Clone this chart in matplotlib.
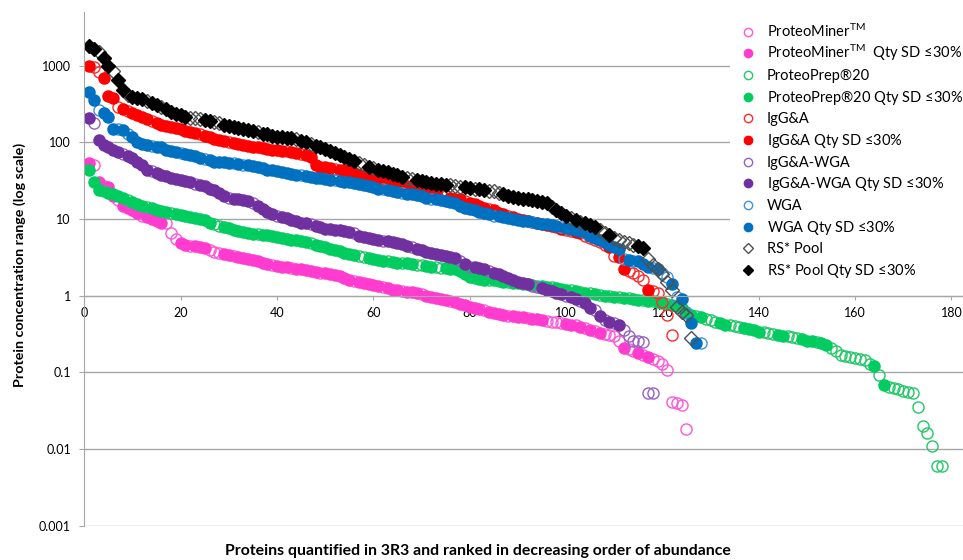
import numpy as np
import matplotlib.pyplot as plt

plt.rcParams['font.family'] = ['Lato', 'DejaVu Sans']
plt.rcParams['mathtext.fontset'] = 'custom'
plt.rcParams['mathtext.rm'] = 'Lato'
plt.rcParams['mathtext.it'] = 'Lato:italic'

# protein concentration range per rank (rank = position in list, starting at 1)
pm_vals = [53, 50, 30, 27, 26, 20, 17.6, 15, 14, 13,
           12, 11, 10.5, 10, 9.5, 9, 8.8, 6.5, 5.5, 4.8,
           4.6, 4.5, 4.4, 4.3, 4.2, 3.9, 3.7, 3.6, 3.5, 3.4,
           3.3, 3.2, 3.1, 3.0, 2.9, 2.8, 2.7, 2.6, 2.5, 2.45,
           2.4, 2.35, 2.3, 2.25, 2.2, 2.15, 2.1, 2.05, 2.0, 1.95,
           1.9, 1.85, 1.8, 1.7, 1.6, 1.55, 1.5, 1.45, 1.42, 1.38,
           1.35, 1.3, 1.25, 1.2, 1.18, 1.15, 1.13, 1.12, 1.1, 1.05,
           1.0, 0.97, 0.94, 0.91, 0.88, 0.85, 0.82, 0.78, 0.75, 0.72,
           0.7, 0.68, 0.65, 0.62, 0.6, 0.58, 0.56, 0.55, 0.54, 0.53,
           0.52, 0.51, 0.5, 0.49, 0.48, 0.47, 0.46, 0.45, 0.44, 0.43,
           0.42, 0.41, 0.39, 0.38, 0.36, 0.35, 0.33, 0.32, 0.31, 0.30,
           0.26, 0.21, 0.2, 0.19, 0.18, 0.17, 0.16, 0.15, 0.14, 0.13,
           0.107, 0.041, 0.04, 0.037, 0.018]
pm_open = [2, 4, 7, 12, 17, 18, 19, 22, 26, 27, 28, 31, 39, 43, 49, 56, 62, 66, 70, 76,
           83, 88, 92, 96, 97, 98, 99, 102, 104, 106, 108, 109, 110, 111, 113, 114, 116,
           118, 119, 120, 121, 122, 123, 124, 125]

pp_vals = [43, 30, 24, 23, 22, 21, 20, 19, 17.6, 16.5,
           15.5, 15, 14.3, 13.8, 13.3, 12.8, 12.3, 12.0, 11.6, 11.2,
           11.0, 10.7, 10.4, 10.1, 9.6, 9.0, 8.6, 8.2, 7.8, 7.6,
           7.2, 7.0, 6.8, 6.6, 6.4, 6.3, 6.2, 6.1, 6.0, 5.8,
           5.6, 5.5, 5.4, 5.3, 5.2, 5.0, 4.8, 4.6, 4.4, 4.3,
           4.1, 4.0, 3.8, 3.6, 3.5, 3.4, 3.3, 3.2, 3.1, 3.0,
           2.9, 2.85, 2.8, 2.75, 2.7, 2.7, 2.65, 2.6, 2.55, 2.5,
           2.45, 2.4, 2.35, 2.3, 2.3, 2.25, 2.2, 2.1, 1.9, 1.75,
           1.7, 1.65, 1.62, 1.6, 1.58, 1.55, 1.52, 1.5, 1.47, 1.45,
           1.42, 1.4, 1.37, 1.35, 1.32, 1.3, 1.28, 1.25, 1.22, 1.2,
           1.18, 1.15, 1.12, 1.1, 1.08, 1.05, 1.03, 1.0, 0.98, 0.96,
           0.95, 0.93, 0.92, 0.9, 0.89, 0.88, 0.86, 0.84, 0.82, 0.8,
           0.78, 0.76, 0.74, 0.7, 0.62, 0.56, 0.54, 0.52, 0.5, 0.48,
           0.46, 0.44, 0.42, 0.41, 0.40, 0.39, 0.38, 0.37, 0.355, 0.34,
           0.335, 0.33, 0.32, 0.31, 0.30, 0.295, 0.285, 0.28, 0.27, 0.26,
           0.255, 0.25, 0.24, 0.23, 0.21, 0.19, 0.17, 0.165, 0.16, 0.155,
           0.15, 0.145, 0.13, 0.12, 0.093, 0.069, 0.065, 0.063, 0.06, 0.057,
           0.056, 0.054, 0.035, 0.020, 0.016, 0.011, 0.006, 0.006]
pp_open = [4, 9, 13, 18, 27, 28, 36, 47, 57, 58, 63, 66, 69, 70, 73, 74, 81, 84, 86, 88,
           91, 94, 97, 101, 103, 105, 107, 109, 111, 113, 116, 118, 121, 123, 127, 129,
           130, 131, 134, 135, 136, 141, 142, 143, 146, 147, 148, 152, 155, 156, 157,
           158, 159, 160, 161, 162, 163, 165, 167, 168, 169, 170, 171, 172, 173, 174,
           175, 176, 177, 178]

iga_vals = [1000, 950, 820, 690, 400, 380, 290, 275, 260, 245,
            230, 215, 200, 188, 178, 170, 162, 158, 152, 148,
            142, 138, 134, 128, 122, 118, 112, 108, 104, 100,
            98, 95, 92, 90, 88, 86, 84, 82, 80, 79,
            78, 76, 74, 72, 70, 68, 64, 50, 48, 47,
            46, 45, 44, 43, 42, 40, 38, 37, 36, 35,
            34, 33, 32, 31, 30, 28, 27, 26, 25, 24,
            23, 22, 21, 20.5, 20, 19, 18.5, 18, 17, 16,
            15.5, 15, 14, 13.5, 13, 12, 11.5, 11, 10.5, 10,
            9.8, 9.5, 9.2, 8.9, 8.6, 8.3, 8.0, 7.8, 7.5, 7.2,
            7.0, 6.8, 6.5, 6.0, 5.6, 5.3, 5.0, 4.6, 4.3, 3.3,
            3.2, 2.2, 2.1, 2.0, 1.8, 1.6, 1.2, 1.15, 1.1, 0.83,
            0.56, 0.31]
iga_open = [2, 3, 7, 9, 14, 24, 30, 42, 45, 52, 66, 74, 75, 79, 84, 88, 95, 98, 100, 101,
            104, 105, 106, 107, 108, 110, 113, 114, 115, 116, 118, 119, 120, 121, 122]

igw_vals = [205, 178, 107, 92, 88, 79, 75, 70, 66, 62,
            55, 50, 44, 42, 40, 38, 36, 34, 33, 32,
            31, 30, 29, 28, 27, 25, 24, 22, 20, 19,
            18.5, 18, 17.5, 17, 16, 15, 13.5, 12.3, 11.5, 11,
            10.6, 10.2, 9.8, 9.3, 9.0, 8.8, 8.5, 8.2, 7.8, 7.5,
            7.3, 7.2, 7.1, 7.0, 6.8, 6.5, 6.0, 5.8, 5.6, 5.5,
            5.3, 5.2, 5.1, 5.0, 4.9, 4.7, 4.5, 4.3, 4.1, 3.9,
            3.7, 3.6, 3.5, 3.4, 3.3, 3.2, 3.1, 2.8, 2.6, 2.4,
            2.35, 2.3, 2.2, 2.1, 2.0, 1.9, 1.8, 1.7, 1.6, 1.5,
            1.45, 1.4, 1.35, 1.3, 1.25, 1.2, 1.15, 1.1, 1.05, 1.0,
            0.95, 0.9, 0.85, 0.8, 0.7, 0.65, 0.55, 0.48, 0.46, 0.44,
            0.42, 0.36, 0.30, 0.26, 0.26, 0.25, 0.053, 0.053]
igw_open = [2, 8, 14, 23, 30, 35, 40, 47, 56, 62, 68, 78, 80, 84, 93, 94, 100, 103, 106,
            108, 110, 112, 113, 114, 115, 116, 117, 118]

wga_vals = [450, 360, 265, 240, 213, 150, 150, 145, 130, 117,
            100, 96, 92, 90, 88, 86, 80, 76, 74, 72,
            70, 68, 66, 62, 60, 58, 56, 55, 55, 54,
            53, 52, 51, 50, 49, 48, 46, 44, 43, 42,
            41, 40, 39, 38, 37, 36, 35, 34.5, 34, 33,
            32.5, 32, 31, 30.5, 30, 29.5, 29, 28, 27, 26,
            25, 24.5, 24, 23, 22.5, 22, 21.5, 21, 20.5, 20,
            19, 18.5, 18, 17.5, 17, 16.5, 16, 15, 14, 13.5,
            13, 12.5, 12, 11.5, 11, 10.8, 10.5, 10.2, 10, 9.7,
            9.5, 9.3, 9.1, 8.9, 8.7, 8.5, 8.3, 8.1, 7.9, 7.7,
            7.5, 7.2, 7.0, 6.5, 6.0, 5.7, 5.4, 5.0, 4.6, 4.3,
            4.1, 3.0, 2.9, 2.85, 2.8, 2.6, 2.4, 2.3, 2.2, 2.0,
            1.75, 1.4, 0.96, 0.9, 0.6, 0.44, 0.24, 0.24]
wga_open = [3, 7, 9, 14, 20, 25, 31, 33, 45, 52, 62, 66, 72, 85, 93, 99, 104, 112, 114,
            118, 120, 121, 123, 125, 128]

rs_vals = [1800, 1650, 1500, 1250, 1000, 850, 650, 480, 420, 390,
           380, 370, 350, 330, 310, 290, 270, 250, 235, 225,
           215, 210, 205, 200, 195, 190, 185, 178, 170, 162,
           158, 155, 150, 145, 140, 135, 130, 127, 122, 118,
           117, 115, 113, 110, 105, 100, 95, 90, 86, 82,
           76, 72, 68, 64, 60, 57, 54, 51, 48, 46,
           44, 42, 41, 39, 37, 35, 34, 33, 32, 31,
           30, 29.5, 29, 28.5, 28, 27.5, 27, 26.5, 26, 25.5,
           25, 24.5, 24, 23.5, 23, 22, 21, 20, 19.5, 19,
           18.5, 18, 17.5, 17, 16.5, 16, 14.5, 13, 12, 11,
           10.3, 9.8, 9.2, 8.8, 8.3, 7.8, 7.2, 6.6, 6.1, 5.7,
           5.4, 5.0, 4.8, 4.6, 4.4, 4.2, 3.0, 2.5, 2.2, 1.9,
           1.5, 1.2, 0.72, 0.62, 0.56, 0.28]
rs_open = [3, 6, 9, 13, 16, 22, 23, 24, 27, 28, 36, 44, 47, 57, 58, 60, 67, 68, 76, 77,
           78, 81, 84, 85, 86, 97, 101, 103, 107, 108, 110, 111, 112, 113, 114, 117, 118,
           119, 120, 121, 122, 123, 124, 125, 126]

qty = " Qty SD $\\mathit{≤30\\%}$"
series = [
    ("ProteoMiner$^{\\mathrm{TM}}$", " " + qty, pm_vals, pm_open, 'o', '#FF3CCF', '#FF55D8'),
    ("ProteoPrep®20", qty, pp_vals, pp_open, 'o', '#00CC60', '#22C866'),
    ("IgG&A", qty, iga_vals, iga_open, 'o', '#FF0000', '#FF2A2A'),
    ("IgG&A-WGA", qty, igw_vals, igw_open, 'o', '#7030A0', '#9461C4'),
    ("WGA", qty, wga_vals, wga_open, 'o', '#0070C0', '#3E93DB'),
    ("RS* Pool", qty, rs_vals, rs_open, 'D', '#000000', '#505050'),
]

fig = plt.figure(figsize=(9.63, 5.6), dpi=100)
ax = fig.add_axes([84.3 / 963, 34.3 / 560, 1 - 84.3 / 963, 513.7 / 560])
ax.set_yscale('log')
ax.set_ylim(0.001, 10 ** 3.70)
ax.set_xlim(0, 182.4)

for name, suffix, vals, open_ranks, mk, fc, ec in series:
    x = np.arange(1, len(vals) + 1)
    v = np.array(vals)
    is_open = np.isin(x, open_ranks)
    ms = 8 if mk == 'o' else 7
    ax.plot(x[is_open], v[is_open], ls='none', marker=mk, ms=ms,
            mfc='none', mec=ec, mew=1.0)
    ax.plot(x[~is_open], v[~is_open], ls='none', marker=mk, ms=ms,
            mfc=fc, mec=fc, mew=1.0)

grid_c = '#a6a6a6'
ax.set_yticks([0.001, 0.01, 0.1, 1, 10, 100, 1000])
ax.set_yticklabels(['0.001', '0.01', '0.1', '1', '10', '100', '1000'])
ax.yaxis.set_minor_locator(plt.NullLocator())
ax.set_xticks(range(0, 181, 20))
ax.grid(axis='y', color=grid_c, lw=1.0)
ax.set_axisbelow(True)
ax.spines['top'].set_visible(False)
ax.spines['right'].set_visible(False)
ax.spines['left'].set_color(grid_c)
ax.spines['bottom'].set_position(('data', 1))
ax.spines['bottom'].set_color(grid_c)
ax.tick_params(axis='y', length=3.6, color=grid_c, labelsize=9, pad=6)
ax.tick_params(axis='x', length=3, color=grid_c, labelsize=9, pad=5)

fig.text(20 / 963, 1 - 265 / 560, "Protein concentration range (log scale)",
         rotation=90, ha='center', va='center', fontsize=10.3, fontweight='bold')
fig.text(478 / 963, 1 - 551 / 560,
         "Proteins quantified in 3R3 and ranked in decreasing order of abundance",
         ha='center', va='center', fontsize=11.4, fontweight='bold')

# legend drawn by hand on a white panel
lax = fig.add_axes([730 / 963, 1 - 283 / 560, 233 / 963, 265 / 560], zorder=5)
lax.set_xlim(730, 963)
lax.set_ylim(283, 18)
lax.set_xticks([])
lax.set_yticks([])
for s in lax.spines.values():
    s.set_visible(False)
ypos = 31.7 + 21.66 * np.arange(12)
i = 0
for name, suffix, vals, open_ranks, mk, fc, ec in series:
    ms = 6 if mk == 'o' else 5
    lax.plot(748, ypos[i], marker=mk, ms=ms, mfc='none', mec=ec, mew=1.0)
    lax.text(767, ypos[i] + 5, name, va='baseline', fontsize=10.5)
    lax.plot(748, ypos[i + 1], marker=mk, ms=ms, mfc=fc, mec=fc, mew=1.0)
    lax.text(767, ypos[i + 1] + 5, name + suffix, va='baseline', fontsize=10.5)
    i += 2

plt.savefig("out.png", dpi=100)
